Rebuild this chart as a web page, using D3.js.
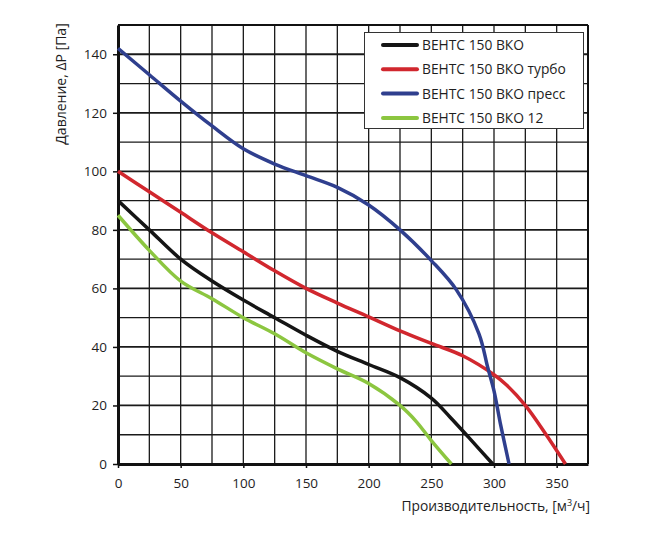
<!DOCTYPE html>
<html><head><meta charset="utf-8">
<script src="https://cdn.jsdelivr.net/npm/d3@7"></script>
<style>
body{margin:0;background:#fff;}
text{font-family:"Open Sans","Noto Sans",sans-serif;fill:#1e1e1e;}
</style></head>
<body><svg id="c" width="658" height="538"></svg>
<script>
const seriesNames = ["ВЕНТС 150 ВКО","ВЕНТС 150 ВКО турбо","ВЕНТС 150 ВКО пресс","ВЕНТС 150 ВКО 12"];
const seriesColors = ["#151515","#d1272e","#2f3f8e","#8cc640"];
const blackPts = [[0,90],[25,80],[50,70],[75,62.5],[100,56],[125,50],[150,44],[175,38.5],[200,34],[225,29.5],[250,22.5],[265,16],[280,9],[299,0]];
const redPts = [[0,100],[25,93],[50,86],[75,79],[100,72.5],[125,66],[150,60],[175,55],[200,50.3],[225,45.5],[250,41.2],[275,37],[300,30.5],[310,27],[325,20],[340,11],[357,0]];
const bluePts = [[0,142],[25,133],[50,124],[75,115.5],[100,107.7],[125,102.5],[150,98.5],[175,94.5],[200,88.5],[225,80],[250,69.5],[270,59.5],[288,44.5],[295,33],[300,25],[305,14],[312,0]];
const greenPts = [[0,85],[25,73],[50,62.5],[75,56.5],[100,50],[125,44.5],[150,38],[175,32.5],[200,27.5],[225,20],[238,14.5],[250,8],[266,0]];
const xTicks = [0,50,100,150,200,250,300,350];
const yTicks = [0,20,40,60,80,100,120,140];
const xGrid = [25,50,75,100,125,150,175,200,225,250,275,300,325,350];
const yGrid = [10,20,30,40,50,60,70,80,90,100,110,120,130,140];
const yTitle = "Давление, ΔP [Па]";
const xTitle = "Производительность, [м";

const svg = d3.select("#c");
const x = d3.scaleLinear().domain([0,375]).range([118,588]);
const y = d3.scaleLinear().domain([0,150]).range([464,25]);

const g = svg.append("g");
g.selectAll(".vg").data(xGrid).enter().append("line")
 .attr("x1",d=>x(d)).attr("x2",d=>x(d)).attr("y1",y(0)).attr("y2",y(150))
 .attr("stroke","#1a1a1a").attr("stroke-width",1.3);
g.selectAll(".hg").data(yGrid).enter().append("line")
 .attr("x1",x(0)).attr("x2",x(375)).attr("y1",d=>y(d)).attr("y2",d=>y(d))
 .attr("stroke","#1a1a1a").attr("stroke-width",d=>d%20===0?1.8:1.3);
g.append("line").attr("x1",x(0)).attr("x2",x(375)).attr("y1",y(150)).attr("y2",y(150)).attr("stroke","#111").attr("stroke-width",2);
g.append("line").attr("x1",x(375)).attr("x2",x(375)).attr("y1",y(0)).attr("y2",y(150)).attr("stroke","#111").attr("stroke-width",2);

const xAxis = d3.axisBottom(x).tickValues(xTicks).tickSize(4).tickPadding(10).tickSizeOuter(0);
const yAxis = d3.axisLeft(y).tickValues(yTicks).tickSize(5).tickPadding(6).tickSizeOuter(0);
const gx = svg.append("g").attr("transform",`translate(0,${y(0)})`).call(xAxis);
const gy = svg.append("g").attr("transform",`translate(${x(0)},0)`).call(yAxis);
[gx,gy].forEach(a=>{
  a.select(".domain").attr("stroke","#111").attr("stroke-width",3);
  a.selectAll(".tick line").attr("stroke","#111").attr("stroke-width",1.5);
  a.selectAll(".tick text").attr("font-size",13.5).attr("fill","#1e1e1e").attr("font-family","'Open Sans',sans-serif");
});

const line = d3.line().x(d=>x(d[0])).y(d=>y(d[1])).curve(d3.curveCatmullRom.alpha(0.5));
const allSeries = [blackPts, redPts, bluePts, greenPts];
svg.append("g").selectAll("path").data(allSeries).enter().append("path")
 .attr("d",line).attr("fill","none")
 .attr("stroke",(d,i)=>seriesColors[i]).attr("stroke-width",3.5).attr("stroke-linejoin","round");

const lg = svg.append("g");
lg.append("rect").attr("x",364.5).attr("y",32.5).attr("width",219).attr("height",96)
 .attr("fill","#fff").attr("stroke","#333").attr("stroke-width",1);
seriesNames.forEach((n,i)=>{
  const yy = 45 + i*24.3;
  lg.append("line").attr("x1",383).attr("x2",417).attr("y1",yy).attr("y2",yy)
   .attr("stroke",seriesColors[i]).attr("stroke-width",4).attr("stroke-linecap","round");
  lg.append("text").attr("x",422).attr("y",yy+5).attr("font-size",13.8).text(n);
});

svg.append("text").attr("transform","translate(66,84) rotate(-90)").attr("text-anchor","middle")
 .attr("font-size",14).text(yTitle);
const xt = svg.append("text").attr("x",590).attr("y",511).attr("text-anchor","end").attr("font-size",13.8);
xt.append("tspan").text(xTitle);
xt.append("tspan").attr("dy",-5).attr("font-size",9).text("3");
xt.append("tspan").attr("dy",5).text("/ч]");
</script></body></html>
